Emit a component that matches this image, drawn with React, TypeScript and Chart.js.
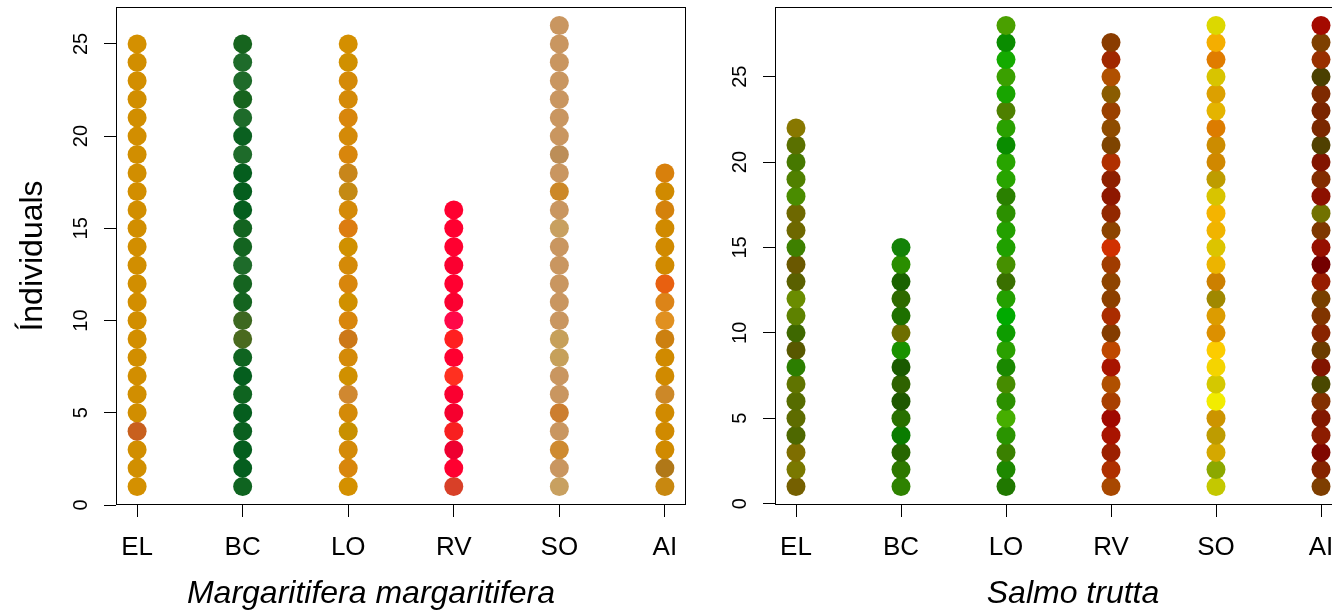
import React, { useEffect, useRef } from "react";
import { Chart, registerables } from "chart.js";
Chart.register(...registerables);

const FONT = '"Liberation Sans", Arial, Helvetica, sans-serif';

const categories = ["EL", "BC", "LO", "RV", "SO", "AI"];
const yTickValues = [0, 5, 10, 15, 20, 25];

// Colours of each individual, listed from individual 1 (bottom) upward.
// Margaritifera margaritifera
const mmEL = [
  "#D49000", "#D18F00", "#D18E00", "#C8601E", "#D18E00", "#D18E00", "#D28E00", "#D18E00", "#D28E00", "#D18E00",
  "#D28E00", "#D18E00", "#D18E00", "#D28E00", "#D18E00", "#D18E00", "#D28E00", "#D18E00", "#D18E00", "#D28E00",
  "#D18E00", "#D18E00", "#D28E00", "#D18E00", "#D49000",
];
const mmBC = [
  "#0F6420", "#055E1E", "#055E1E", "#0A6020", "#055E1E", "#0F6420", "#055E1E", "#0F6420", "#4A6A1E", "#3D6820",
  "#156420", "#156420", "#1E6B2A", "#136420", "#136420", "#055E1E", "#055E1E", "#055E1E", "#1E6B2A", "#0A6020",
  "#1E6B2A", "#17641E", "#1E6B2A", "#1E6B2A", "#16641E",
];
const mmLO = [
  "#D49000", "#D8860C", "#D48A08", "#C89000", "#D48A08", "#D08830", "#D09000", "#D48A08", "#CC7818", "#D8860C",
  "#D09000", "#D8860C", "#D48A08", "#D09000", "#DC7C10", "#D48A08", "#C48A14", "#C8861A", "#D8860C", "#D48A08",
  "#D8860C", "#D48A08", "#D48A08", "#D09000", "#D48F00",
];
const mmRV = [
  "#D84028", "#FF0030", "#EE0030", "#F82020", "#F5002E", "#FA0030", "#FF3020", "#FF0030", "#FF2020", "#FF0848",
  "#FA0030", "#FF0030", "#FA0030", "#FF0030", "#FF0030", "#FF0030",
];
const mmSO = [
  "#C8A060", "#C99660", "#CE8A30", "#C99660", "#CC7E30", "#C99660", "#C99660", "#C6A05A", "#C6A05A", "#C99660",
  "#C99660", "#C99660", "#C99660", "#C99660", "#C8A060", "#C99660", "#CC8828", "#C99660", "#BC8E58", "#C99660",
  "#C99660", "#C99660", "#C99660", "#C99660", "#C99660", "#C99660",
];
const mmAI = [
  "#C88810", "#B07818", "#D08A00", "#D08A00", "#D08A00", "#CC8828", "#D08A00", "#D08A00", "#CC8010", "#E09020",
  "#DC8418", "#E86010", "#D08A00", "#D08A00", "#D08A00", "#D4820C", "#D08A00", "#D8800C",
];

// Salmo trutta
const stEL = [
  "#756000", "#7A7800", "#7E6E00", "#4E6800", "#5E6C00", "#566C00", "#607400", "#2C7E00", "#585800", "#3E6800",
  "#5E8200", "#6A8C00", "#5A6000", "#6A5800", "#3E8000", "#6E6800", "#6E6800", "#4A8C00", "#508000", "#467800",
  "#5A7000", "#887800",
];
const stBC = [
  "#2E8200", "#2E7800", "#266600", "#0A7C00", "#287000", "#1E5800", "#2E6200", "#1A5A00", "#1A9200", "#6E6E00",
  "#1E7000", "#2E6A00", "#1A6200", "#2A8E00", "#148208",
];
const stLO = [
  "#207800", "#1E8800", "#3A8000", "#2A9400", "#46AE00", "#2C9000", "#468C00", "#1A8800", "#2AA000", "#0E9C00",
  "#00AA00", "#24A000", "#3A7000", "#469000", "#20A000", "#24A000", "#2C9000", "#2A8000", "#28A400", "#28A400",
  "#0A8C00", "#2AA000", "#4E8000", "#18A400", "#3AA000", "#14AA00", "#0A8C00", "#4AA000",
];
const stRV = [
  "#A84800", "#AE3000", "#9C2000", "#A81400", "#A00800", "#A84000", "#B05000", "#A81400", "#BE4800", "#843C00",
  "#AA2C00", "#8C4000", "#8E4400", "#A03C00", "#D03000", "#8C4400", "#922800", "#8E1800", "#8E2000", "#B03000",
  "#7E4400", "#8E4C00", "#9A4000", "#8A5C00", "#B05000", "#A02800", "#8A3C00",
];
const stSO = [
  "#C4C800", "#8CA800", "#D4A800", "#BE9C00", "#CC9400", "#F2EC00", "#D4C800", "#F4D400", "#FCCC00", "#DC9000",
  "#DC9C00", "#A08800", "#CC8000", "#ECB400", "#DCC400", "#F0B400", "#F4B400", "#D8C400", "#BE9C00", "#D08800",
  "#CC8C00", "#DC7C00", "#E4B400", "#DCA000", "#D8C400", "#E07C00", "#F4AE00", "#DCD800",
];
const stAI = [
  "#7E3E00", "#842400", "#800800", "#8C1C00", "#821800", "#823000", "#4A4800", "#821400", "#6A3C00", "#882400",
  "#803400", "#784000", "#961C00", "#740000", "#961000", "#7E3800", "#727200", "#8C1000", "#822C00", "#821400",
  "#504000", "#7A2800", "#7A2400", "#7E2A00", "#4A4000", "#983000", "#7E4000", "#A40A00",
];

const mmColors = [mmEL, mmBC, mmLO, mmRV, mmSO, mmAI];
const stColors = [stEL, stBC, stLO, stRV, stSO, stAI];

type PanelProps = {
  colors: string[][];
  yMin: number;
  yMax: number;
  canvasLeft: number;
  canvasWidth: number;
  yAxisWidth: number;
  padRight: number;
  yTitle?: string;
  xTitle: string;
  xTitleCenter: number;
};

function Panel(props: PanelProps) {
  const ref = useRef<HTMLCanvasElement>(null);
  useEffect(() => {
    if (!ref.current) return;
    const datasets = props.colors.map((cols, k) => ({
      label: categories[k],
      data: cols.map((_, i) => ({ x: k + 1, y: i + 1 })),
      pointRadius: 9.5,
      pointBackgroundColor: cols,
      pointBorderColor: cols,
      pointBorderWidth: 0,
      showLine: false,
    }));
    const boxPlugin = {
      id: "boxAndTitle",
      afterDraw(chart: any) {
        const { ctx, chartArea: a } = chart;
        ctx.save();
        ctx.strokeStyle = "#000";
        ctx.lineWidth = 1;
        const l = Math.round(a.left) + 0.5;
        const t = Math.round(a.top) + 0.5;
        const r = Math.round(a.right) - 0.5;
        const b = Math.round(a.bottom) - 0.5;
        ctx.strokeRect(l, t, r - l, b - t);
        ctx.fillStyle = "#000";
        ctx.font = `italic 32px ${FONT}`;
        ctx.textAlign = "center";
        ctx.textBaseline = "alphabetic";
        ctx.fillText(props.xTitle, props.xTitleCenter - props.canvasLeft, 603);
        ctx.restore();
      },
    };
    const chart = new Chart(ref.current, {
      type: "scatter",
      data: { datasets },
      options: {
        responsive: false,
        maintainAspectRatio: false,
        animation: false,
        events: [],
        layout: { autoPadding: false, padding: { top: 7, right: props.padRight, left: 0, bottom: 0 } },
        plugins: { legend: { display: false }, tooltip: { enabled: false } },
        scales: {
          x: {
            type: "linear",
            min: 0.8,
            max: 6.2,
            afterBuildTicks: (s: any) => {
              s.ticks = categories.map((_, i) => ({ value: i + 1 }));
            },
            afterFit: (s: any) => {
              s.height = 109;
              s.paddingLeft = 0;
              s.paddingRight = 0;
            },
            grid: { drawOnChartArea: false, drawTicks: true, tickLength: 12, color: "#000", lineWidth: 1 },
            border: { display: false },
            ticks: {
              autoSkip: false,
              minRotation: 0,
              maxRotation: 0,
              padding: 15,
              color: "#000",
              font: { family: FONT, size: 26 },
              callback: (_v: any, i: number) => categories[i],
            },
          },
          y: {
            type: "linear",
            min: props.yMin,
            max: props.yMax,
            afterBuildTicks: (s: any) => {
              s.ticks = yTickValues.map((v) => ({ value: v }));
            },
            afterFit: (s: any) => {
              s.width = props.yAxisWidth;
              s.paddingTop = 0;
              s.paddingBottom = 0;
            },
            grid: { drawOnChartArea: false, drawTicks: true, tickLength: 12, color: "#000", lineWidth: 1 },
            border: { display: false },
            ticks: {
              minRotation: 90,
              maxRotation: 90,
              crossAlign: "center",
              padding: 11,
              color: "#000",
              font: { family: FONT, size: 20 },
            },
            title: props.yTitle
              ? {
                  display: true,
                  text: props.yTitle,
                  color: "#000",
                  font: { family: FONT, size: 32 },
                  padding: { top: 14, bottom: 0 },
                }
              : { display: false },
          },
        },
      } as any,
      plugins: [boxPlugin],
    });
    return () => chart.destroy();
  }, []);
  return (
    <canvas
      ref={ref}
      width={props.canvasWidth}
      height={614}
      style={{ position: "absolute", left: props.canvasLeft, top: 0, width: props.canvasWidth, height: 614 }}
    />
  );
}

export default function App() {
  return (
    <div
      style={{
        position: "fixed",
        left: 0,
        top: 0,
        width: 1332,
        height: 614,
        overflow: "hidden",
        background: "#fff",
      }}
    >
      <Panel
        colors={mmColors}
        yMin={0}
        yMax={27}
        canvasLeft={0}
        canvasWidth={700}
        yAxisWidth={116}
        padRight={14}
        yTitle="Índividuals"
        xTitle="Margaritifera margaritifera"
        xTitleCenter={371}
      />
      <Panel
        colors={stColors}
        yMin={-0.08}
        yMax={29.08}
        canvasLeft={700}
        canvasWidth={660}
        yAxisWidth={75}
        padRight={18}
        xTitle="Salmo trutta"
        xTitleCenter={1073}
      />
    </div>
  );
}
